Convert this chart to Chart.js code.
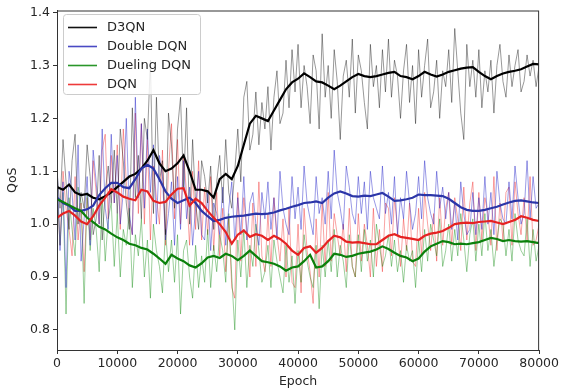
<!DOCTYPE html>
<html>
<head>
<meta charset="utf-8">
<script src="https://cdn.jsdelivr.net/npm/chart.js@4"></script>
<style>
  html, body { margin: 0; padding: 0; background: #fff; }
  canvas { display: block; }
</style>
</head>
<body>
<canvas id="qosChart" width="561" height="391"></canvas>
<script>
// raw samples every 500 epochs, smoothed curve every 1000 epochs
const rawEpochs = [];
for (let e = 0; e <= 80000; e += 500) rawEpochs.push(e);
const smoothEpochs = [];
for (let e = 0; e <= 80000; e += 1000) smoothEpochs.push(e);

const labels = ['D3QN', 'Double DQN', 'Dueling DQN', 'DQN'];
const yTicks = [0.8, 0.9, 1.0, 1.1, 1.2, 1.3, 1.4];
const xTicks = [0, 10000, 20000, 30000, 40000, 50000, 60000, 70000, 80000];

const d3qnRaw = [
  1.10, 1.03, 1.16, 1.08, 0.99, 1.12, 1.17, 1.00, 1.06, 1.03,
  1.15, 1.09, 0.98, 1.01, 1.13, 0.97, 1.06, 1.11, 1.04, 1.14,
  1.02, 1.18, 1.12, 1.04, 0.99, 1.22, 1.05, 1.13, 1.01, 1.20,
  1.16, 1.31, 1.02, 1.24, 1.08, 1.12, 0.98, 1.21, 1.15, 1.03,
  1.18, 1.24, 1.07, 1.22, 1.00, 1.16, 1.04, 0.99, 1.12, 1.09,
  1.04, 1.11, 0.99, 1.08, 1.13, 1.04, 1.16, 1.06, 1.03, 1.10,
  1.18, 1.08, 1.24, 1.27, 1.14, 1.17, 1.25, 1.15, 1.23, 1.18,
  1.26, 1.14, 1.24, 1.29, 1.19, 1.21, 1.31, 1.22, 1.33, 1.25,
  1.34, 1.22, 1.30, 1.26, 1.19, 1.32, 1.29, 1.18, 1.36, 1.24,
  1.30, 1.20, 1.33, 1.27, 1.16, 1.28, 1.31, 1.24, 1.35, 1.21,
  1.32, 1.29, 1.23, 1.18, 1.34, 1.26, 1.30, 1.22, 1.33, 1.25,
  1.35, 1.24, 1.31, 1.28, 1.20, 1.29, 1.34, 1.23, 1.30, 1.19,
  1.33, 1.24, 1.30, 1.35, 1.22, 1.25, 1.31, 1.20, 1.29, 1.26,
  1.33, 1.23, 1.37, 1.29, 1.21, 1.16, 1.34, 1.26, 1.31, 1.24,
  1.33, 1.22, 1.29, 1.25, 1.31, 1.21, 1.30, 1.34, 1.27, 1.24,
  1.32, 1.26, 1.30, 1.33, 1.25, 1.27, 1.32, 1.28, 1.31, 1.26,
  1.30
];
const doubleRaw = [
  1.12, 0.95, 1.08, 0.88, 1.10, 1.06, 0.97, 1.15, 0.93, 1.01,
  1.09, 0.96, 1.14, 1.08, 1.00, 1.18, 1.03, 0.99, 1.17, 1.04,
  1.13, 1.00, 1.06, 1.20, 1.02, 0.98, 1.24, 1.05, 1.19, 1.03,
  1.18, 1.06, 1.15, 1.00, 1.13, 1.09, 0.97, 1.02, 1.08, 0.96,
  1.09, 0.99, 1.12, 1.01, 1.07, 0.96, 1.03, 1.10, 0.98, 0.97,
  1.06, 0.95, 1.04, 1.02, 0.98, 1.07, 0.96, 1.03, 1.08, 0.97,
  1.05, 0.98, 1.09, 0.97, 1.04, 1.06, 1.00, 0.96, 1.06, 1.01,
  1.08, 0.99, 1.05, 0.97, 1.10, 1.03, 1.00, 0.98, 1.09, 1.01,
  1.07, 0.99, 1.11, 1.04, 1.01, 0.98, 1.09, 1.02, 1.05, 1.00,
  1.10, 1.01, 1.14, 1.06, 1.03, 0.99, 1.11, 1.07, 1.02, 1.00,
  1.09, 1.02, 1.08, 0.99, 1.10, 1.05, 1.03, 1.01, 1.11, 1.02,
  1.06, 1.00, 1.09, 0.98, 1.05, 1.01, 1.10, 1.04, 0.99, 1.02,
  1.09, 1.01, 1.12, 1.05, 1.02, 1.00, 1.10, 1.03, 1.07, 1.01,
  1.06, 0.99, 1.04, 0.97, 1.08, 1.02, 0.98, 0.99, 1.06, 0.98,
  1.05, 0.99, 1.09, 1.00, 1.06, 0.98, 1.10, 1.04, 1.01, 1.00,
  1.08, 1.01, 1.11, 1.05, 1.00, 1.02, 1.12, 1.01, 1.09, 1.03,
  1.04
];
const duelingRaw = [
  1.08, 0.96, 1.06, 0.83, 1.05, 0.99, 0.94, 1.07, 1.04, 0.85,
  1.06, 0.95, 1.03, 0.99, 0.91, 1.05, 0.93, 1.01, 1.04, 0.92,
  1.02, 0.90, 0.99, 0.96, 1.03, 0.88, 0.98, 0.94, 1.01, 0.90,
  0.97, 0.86, 1.00, 0.95, 0.92, 0.87, 0.99, 0.91, 0.97, 0.89,
  0.98, 0.83, 0.95, 0.97, 0.90, 0.86, 0.96, 0.88, 0.94, 0.89,
  0.99, 0.88, 0.96, 0.91, 0.98, 0.95, 0.89, 1.02, 0.90, 0.80,
  0.97, 0.90, 0.99, 0.88, 0.96, 0.92, 1.00, 0.95, 0.89, 0.91,
  0.96, 0.88, 0.97, 0.93, 0.90, 0.87, 0.96, 0.89, 0.94, 0.85,
  0.95, 0.89, 0.98, 0.93, 0.90, 0.88, 0.96, 0.84, 0.96, 0.90,
  0.97, 0.91, 0.99, 0.90, 0.96, 0.93, 0.88, 0.98, 0.92, 0.90,
  0.98, 0.91, 0.99, 0.93, 0.97, 0.90, 1.00, 0.96, 0.92, 0.94,
  0.98, 0.92, 0.97, 0.91, 0.95, 0.89, 0.96, 0.93, 0.95, 0.88,
  0.97, 0.91, 0.99, 0.93, 1.00, 0.97, 0.94, 1.01, 0.92, 0.95,
  1.00, 0.93, 0.99, 0.94, 1.02, 0.97, 0.91, 0.98, 1.01, 0.93,
  1.00, 0.94, 1.02, 0.95, 0.99, 0.92, 0.97, 1.01, 1.00, 0.94,
  0.99, 0.93, 1.02, 0.97, 0.95, 0.94, 1.01, 0.92, 0.99, 0.93,
  0.96
];
const dqnRaw = [
  1.07, 0.96, 1.10, 1.03, 0.99, 0.94, 1.09, 0.97, 1.04, 0.91,
  1.05, 0.97, 1.12, 1.06, 1.00, 1.14, 1.17, 1.01, 1.13, 1.04,
  1.15, 0.99, 1.18, 1.08, 1.01, 0.98, 1.21, 1.02, 1.19, 1.00,
  1.16, 0.97, 1.11, 1.05, 1.00, 1.14, 0.96, 1.10, 1.19, 1.01,
  1.16, 1.00, 1.13, 1.06, 0.96, 1.10, 0.99, 1.12, 0.97, 1.07,
  0.98, 1.09, 0.95, 1.06, 0.94, 1.03, 0.91, 1.01, 0.88, 0.86,
  1.06, 0.93, 1.05, 0.99, 0.90, 1.04, 0.92, 1.08, 0.94, 0.91,
  1.02, 0.92, 1.05, 0.98, 0.93, 1.01, 0.90, 1.03, 0.89, 0.88,
  1.00, 0.87, 1.03, 0.95, 0.91, 0.85, 1.01, 0.90, 1.04, 0.92,
  1.06, 0.93, 1.02, 0.98, 0.94, 1.00, 0.91, 1.03, 0.92, 0.90,
  1.02, 0.93, 1.00, 0.96, 0.90, 1.03, 0.92, 0.99, 0.91, 1.04,
  1.03, 0.94, 1.05, 0.99, 0.92, 1.01, 0.95, 1.04, 0.93, 0.92,
  1.03, 0.94, 1.06, 1.00, 0.95, 1.02, 0.93, 1.05, 0.96, 1.03,
  1.06, 0.96, 1.05, 1.01, 0.95, 1.07, 0.97, 1.04, 1.08, 0.95,
  1.06, 0.97, 1.05, 1.02, 0.96, 1.09, 0.95, 1.04, 0.97, 1.06,
  1.07, 0.96, 1.08, 1.02, 0.98, 1.05, 0.97, 1.09, 0.96, 0.97,
  1.00
];

const d3qnSmooth = [
  1.070, 1.065, 1.075, 1.060, 1.055, 1.057, 1.050, 1.047, 1.053, 1.060,
  1.070, 1.080, 1.090, 1.095, 1.105, 1.120, 1.140, 1.115, 1.100, 1.105,
  1.115, 1.130, 1.100, 1.065, 1.065, 1.062, 1.050, 1.085, 1.095, 1.085,
  1.110, 1.150, 1.190, 1.205, 1.200, 1.195, 1.215, 1.235, 1.255, 1.268,
  1.275, 1.285, 1.278, 1.270, 1.268, 1.262, 1.255, 1.262, 1.270, 1.278,
  1.284, 1.280, 1.278, 1.280, 1.283, 1.286, 1.288, 1.280, 1.278, 1.274,
  1.280, 1.288, 1.283, 1.279, 1.283, 1.288, 1.291, 1.294, 1.296, 1.297,
  1.288, 1.280, 1.274, 1.280, 1.285, 1.288, 1.290, 1.293, 1.298, 1.303,
  1.302
];
const doubleSmooth = [
  1.050, 1.040, 1.035, 1.025, 1.025, 1.028, 1.035, 1.055, 1.068, 1.078,
  1.078, 1.070, 1.068, 1.085, 1.105, 1.112, 1.105, 1.085, 1.062, 1.048,
  1.040, 1.045, 1.050, 1.040, 1.025, 1.015, 1.006, 1.008, 1.012, 1.014,
  1.015, 1.016, 1.018, 1.020, 1.019, 1.020, 1.022, 1.026, 1.029, 1.033,
  1.036, 1.040, 1.041, 1.043, 1.040, 1.050, 1.058, 1.062, 1.058, 1.053,
  1.052, 1.054, 1.053, 1.056, 1.059, 1.052, 1.044, 1.045, 1.047, 1.050,
  1.056, 1.055, 1.055, 1.054, 1.053, 1.048, 1.040, 1.032, 1.027, 1.025,
  1.025, 1.027, 1.030, 1.033, 1.037, 1.041, 1.044, 1.045, 1.043, 1.041,
  1.040
];
const duelingSmooth = [
  1.047, 1.042, 1.036, 1.030, 1.025, 1.012, 1.004, 0.995, 0.990, 0.982,
  0.975, 0.970, 0.963, 0.960, 0.955, 0.952, 0.944, 0.935, 0.925, 0.942,
  0.935, 0.930, 0.922, 0.918, 0.926, 0.937, 0.940, 0.936, 0.944, 0.940,
  0.932, 0.940, 0.950, 0.940, 0.930, 0.928, 0.925, 0.920, 0.912, 0.918,
  0.920, 0.930, 0.942, 0.918, 0.920, 0.930, 0.944, 0.942, 0.938, 0.940,
  0.944, 0.946, 0.948, 0.952, 0.958, 0.953, 0.946, 0.940, 0.937, 0.930,
  0.935, 0.948, 0.958, 0.963, 0.968, 0.966, 0.962, 0.963, 0.962, 0.964,
  0.966, 0.970, 0.974, 0.972, 0.968, 0.970, 0.968, 0.967, 0.968, 0.966,
  0.964
];
const dqnSmooth = [
  1.012, 1.020, 1.025, 1.016, 1.005, 1.000, 1.015, 1.035, 1.050, 1.066,
  1.060, 1.052, 1.048, 1.045, 1.065, 1.062, 1.044, 1.040, 1.042, 1.056,
  1.067, 1.068, 1.035, 1.048, 1.040, 1.025, 1.012, 1.000, 0.985, 0.963,
  0.980, 0.988, 0.976, 0.981, 0.978, 0.970, 0.978, 0.972, 0.963, 0.950,
  0.942, 0.955, 0.958, 0.946, 0.955, 0.968, 0.978, 0.975, 0.967, 0.965,
  0.966, 0.964, 0.962, 0.962, 0.970, 0.978, 0.981, 0.976, 0.974, 0.972,
  0.970, 0.978, 0.982, 0.984, 0.987, 0.993, 1.000, 1.002, 1.003, 1.002,
  1.004, 1.005, 1.006, 1.003, 1.000, 1.004, 1.008, 1.015, 1.012, 1.008,
  1.006
];

const rawColors = ['rgba(0,0,0,0.45)', 'rgba(30,30,200,0.5)', 'rgba(10,135,10,0.45)', 'rgba(240,30,30,0.45)'];
const lineColors = ['#000000', '#2b35a8', '#0b800b', '#e52222'];
const legendColors = ['#111111', '#4a4ac4', '#2a962a', '#ee3a3a'];

const toPts = (xs, ys) => xs.map((x, i) => ({ x: x, y: ys[i] }));
const raws = [d3qnRaw, doubleRaw, duelingRaw, dqnRaw];
const smooths = [d3qnSmooth, doubleSmooth, duelingSmooth, dqnSmooth];

const datasets = [];
raws.forEach((r, i) => {
  datasets.push({
    label: labels[i] + ' raw',
    data: toPts(rawEpochs, r),
    borderColor: rawColors[i],
    borderWidth: 0.9,
    order: 10 + i
  });
});
smooths.forEach((s, i) => {
  datasets.push({
    label: labels[i],
    data: toPts(smoothEpochs, s),
    borderColor: lineColors[i],
    borderWidth: 2.2,
    order: 4 - i
  });
});

const FONT = 'DejaVu Sans';
const TXT = '#262626';

const framePlugin = {
  id: 'frame',
  afterDraw(chart) {
    const { ctx, chartArea: a } = chart;
    ctx.save();
    // spines
    ctx.strokeStyle = '#333';
    ctx.lineWidth = 1;
    ctx.strokeRect(a.left + 0.5, a.top + 0.5, a.right - a.left - 1, a.bottom - a.top);

    // axis titles
    ctx.fillStyle = TXT;
    ctx.font = '12.5px "' + FONT + '"';
    ctx.textAlign = 'center';
    ctx.textBaseline = 'middle';
    ctx.fillText('Epoch', (a.left + a.right) / 2, 382);
    ctx.save();
    ctx.translate(13, (a.top + a.bottom) / 2);
    ctx.rotate(-Math.PI / 2);
    ctx.fillText('QoS', 0, 0);
    ctx.restore();

    // legend box
    const bx = 63, by = 14, bw = 137, bh = 80;
    ctx.fillStyle = 'rgba(255,255,255,0.8)';
    ctx.strokeStyle = '#cccccc';
    ctx.beginPath();
    ctx.roundRect(bx + 0.5, by + 0.5, bw, bh, 3);
    ctx.fill();
    ctx.stroke();
    ctx.font = '13px "' + FONT + '"';
    ctx.textAlign = 'left';
    labels.forEach((lab, i) => {
      const y = 27.5 + i * 19;
      ctx.strokeStyle = legendColors[i];
      ctx.lineWidth = 1.6;
      ctx.beginPath();
      ctx.moveTo(68, y);
      ctx.lineTo(97, y);
      ctx.stroke();
      ctx.fillStyle = TXT;
      ctx.fillText(lab, 107, y + 0.5);
    });
    ctx.restore();
  }
};

new Chart(document.getElementById('qosChart').getContext('2d'), {
  type: 'line',
  data: { datasets: datasets },
  options: {
    responsive: false,
    animation: false,
    layout: { padding: { left: 0, top: 10, right: 21, bottom: 0 } },
    elements: {
      point: { radius: 0 },
      line: { tension: 0, fill: false }
    },
    plugins: {
      legend: { display: false },
      tooltip: { enabled: false }
    },
    scales: {
      x: {
        type: 'linear',
        min: 0,
        max: 80000,
        afterFit: s => { s.height = 41; },
        afterBuildTicks: s => { s.ticks = xTicks.map(v => ({ value: v })); },
        grid: { display: true, drawOnChartArea: false, drawTicks: true, tickLength: 4, tickColor: '#333' },
        border: { display: true, color: '#333' },
        ticks: {
          color: TXT,
          padding: 2,
          maxRotation: 0,
          font: { family: FONT, size: 12.5 },
          callback: v => String(v)
        }
      },
      y: {
        min: 0.762,
        max: 1.404,
        afterFit: s => { s.width = 57; },
        afterBuildTicks: s => { s.ticks = yTicks.map(v => ({ value: v })); },
        grid: { display: true, drawOnChartArea: false, drawTicks: true, tickLength: 4, tickColor: '#333' },
        border: { display: true, color: '#333' },
        ticks: {
          color: TXT,
          padding: 3,
          font: { family: FONT, size: 12.5 },
          callback: v => v.toFixed(1)
        }
      }
    }
  },
  plugins: [framePlugin]
});
</script>
</body>
</html>
